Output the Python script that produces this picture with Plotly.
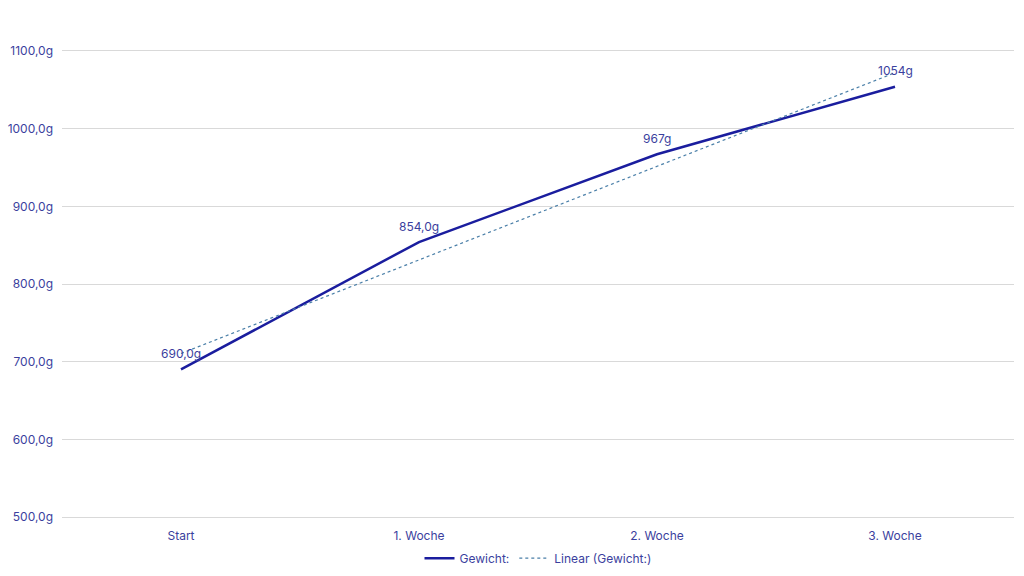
import numpy as np
import plotly.graph_objects as go

categories = ["Start", "1. Woche", "2. Woche", "3. Woche"]
weights = [690, 854, 967, 1054]
data_labels = ["690,0g", "854,0g", "967g", "1054g"]
y_ticks = [500, 600, 700, 800, 900, 1000, 1100]
y_tick_labels = ["500,0g", "600,0g", "700,0g", "800,0g", "900,0g", "1000,0g", "1100,0g"]

xi = np.arange(len(weights))
slope, intercept = np.polyfit(xi, weights, 1)
trend = slope * xi + intercept

text_color = "#3B3F9E"
font_family = "Inter, Liberation Sans, sans-serif"

fig = go.Figure()
fig.add_trace(go.Scatter(
    x=categories, y=weights, mode="lines", name="Gewicht:",
    line=dict(color="#1A1D9E", width=2.5),
))
fig.add_trace(go.Scatter(
    x=categories, y=trend, mode="lines", name="Linear (Gewicht:)",
    line=dict(color="#4A7FA8", width=1.2, dash="dot"),
))

for c, v, t in zip(categories, weights, data_labels):
    fig.add_annotation(x=c, y=v, text=t, showarrow=False, yshift=16,
                       font=dict(size=12, color=text_color, family=font_family))

fig.update_layout(
    width=1024, height=576,
    margin=dict(l=62, r=10, t=51, b=59),
    paper_bgcolor="white", plot_bgcolor="white",
    font=dict(family=font_family, color=text_color, size=12),
    showlegend=True,
    legend=dict(orientation="h", x=0.5, xanchor="center", yref="container",
                y=0.031, yanchor="middle",
                font=dict(size=12, color=text_color)),
    xaxis=dict(range=[-0.5, 3.5], showgrid=False, zeroline=False,
               showline=True, mirror=True, linecolor="#D9D9D9", linewidth=1,
               ticks="", automargin=False, ticklabelstandoff=8,
               tickfont=dict(size=12, color=text_color)),
    yaxis=dict(range=[500, 1100], tickvals=y_ticks, ticktext=y_tick_labels,
               showgrid=True, gridcolor="#D9D9D9", gridwidth=1, zeroline=False,
               showline=False, ticks="", automargin=False, ticklabelstandoff=8,
               tickfont=dict(size=12, color=text_color)),
)

fig.write_html("out.html", config={"displayModeBar": False},
               post_script="document.body.style.margin='0';")
